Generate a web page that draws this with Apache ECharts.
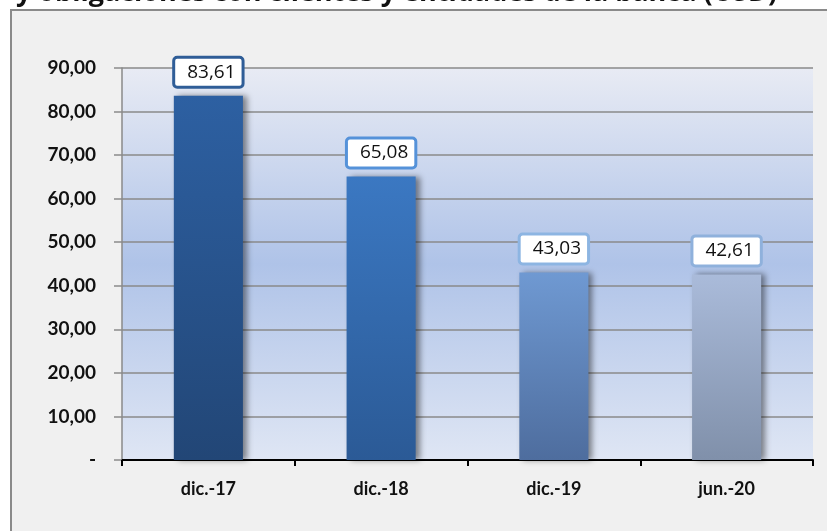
<!DOCTYPE html>
<html>
<head>
<meta charset="utf-8">
<script src="https://cdn.jsdelivr.net/npm/echarts@6/dist/echarts.min.js"></script>
<style>
html,body{margin:0;padding:0;background:#ffffff;}
#c{width:827px;height:531px;}
</style>
</head>
<body>
<div id="c"></div>
<script>
const titleText = 'y obligaciones con clientes y entidades de la banca (USD)';
const categories = ['dic.-17', 'dic.-18', 'dic.-19', 'jun.-20'];
const values = [83.61, 65.08, 43.03, 42.61];
const yTicks = [0, 10, 20, 30, 40, 50, 60, 70, 80, 90];

const barTop = ['#2d60a2', '#3b78c2', '#6f99d2', '#aabbda'];
const barBottom = ['#224676', '#2b5a96', '#4e6d9e', '#8090aa'];
const labelBorder = ['#2f5d97', '#5592d9', '#8db5e2', '#8fb1dc'];

function fmt(v){ return v.toFixed(2).replace('.', ','); }

const chart = echarts.init(document.getElementById('c'), null, {renderer:'canvas'});
const option = {
  backgroundColor: '#ffffff',
  animation: false,
  graphic: [
    {type:'rect', left: 10, top: 9, shape:{width: 830, height: 540}, style:{fill:'#f0f0f0', stroke:'#8a8a8a', lineWidth:2}, z: -10},
    {type:'text', left: 16, top: -20, style:{text: titleText, fill:'#111', font:'bold 27px "Open Sans", sans-serif'}, z: 10}
  ],
  grid: {
    left: 122, right: 14, top: 68, bottom: 71,
    show: true,
    borderWidth: 0,
    backgroundColor: {
      type:'linear', x:0, y:0, x2:0, y2:1,
      colorStops:[
        {offset:0, color:'#e8ebf4'},
        {offset:0.5, color:'#afc3e8'},
        {offset:1, color:'#dfe6f4'}
      ]
    }
  },
  xAxis: {
    type:'category',
    data: categories,
    axisLine:{show:true, lineStyle:{color:'#000', width:2}},
    axisTick:{show:true, length:6, lineStyle:{color:'#000', width:2}},
    axisLabel:{color:'#111', fontFamily:'Lato, sans-serif', fontWeight:'bold', fontSize:18, margin:20}
  },
  yAxis: {
    type:'value',
    min: yTicks[0], max: yTicks[yTicks.length-1], interval: 10,
    axisLine:{show:true, lineStyle:{color:'#8a8a8a', width:1.5}},
    axisTick:{show:true, length:8, lineStyle:{color:'#8a8a8a', width:1.5}},
    axisLabel:{color:'#111', fontFamily:'Lato, sans-serif', fontWeight:'bold', fontSize:19, margin:26,
      formatter: v => v === 0 ? '-' : fmt(v)},
    splitLine:{show:true, lineStyle:{color:'#8a8a8a', width:1.5}}
  },
  series: [{
    type:'bar',
    barWidth: '40%',
    data: values.map((v,i) => ({
      value: v,
      itemStyle: {
        color: {type:'linear', x:0, y:0, x2:0, y2:1, colorStops:[{offset:0,color:barTop[i]},{offset:1,color:barBottom[i]}]},
        shadowColor:'rgba(0,0,0,0.45)', shadowBlur:6, shadowOffsetX:4, shadowOffsetY:0
      },
      label: {
        show:true, position:'top', distance: 10,
        formatter: p => fmt(p.value),
        color:'#111', fontFamily:'"Open Sans", sans-serif', fontSize:19,
        backgroundColor:'#ffffff', borderColor: labelBorder[i], borderWidth:3, borderRadius:2,
        padding:[4, 6, 4, 12]
      }
    }))
  }]
};
chart.setOption(option);
</script>
</body>
</html>
